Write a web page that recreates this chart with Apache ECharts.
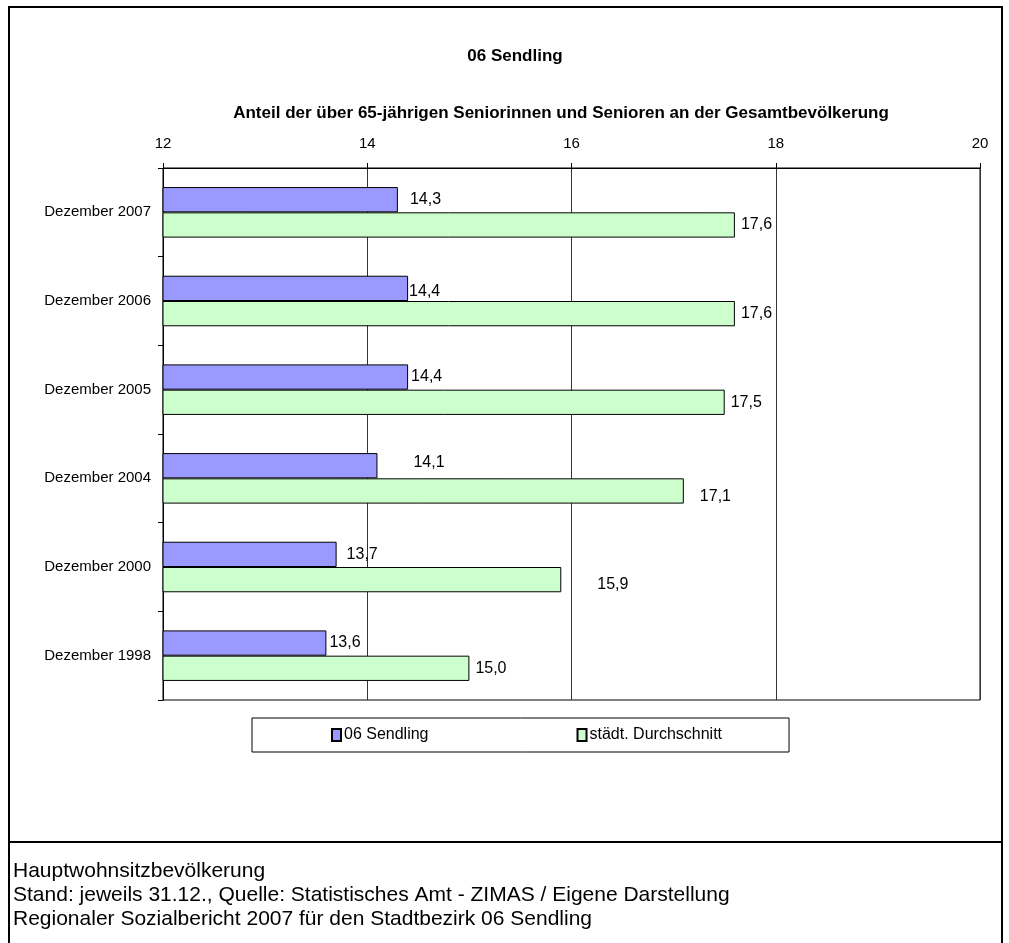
<!DOCTYPE html>
<html>
<head>
<meta charset="utf-8">
<script src="https://cdn.jsdelivr.net/npm/echarts@6/dist/echarts.min.js"></script>
<style>
  html, body { margin: 0; padding: 0; background: #fff; }
  #chart { width: 1009px; height: 943px; }
</style>
</head>
<body>
<div id="chart"></div>
<script>
// Daten
const categories = ['Dezember 2007', 'Dezember 2006', 'Dezember 2005', 'Dezember 2004', 'Dezember 2000', 'Dezember 1998'];
const sendlingValues = [14.3, 14.4, 14.4, 14.1, 13.7, 13.6];
const stadtValues = [17.6, 17.6, 17.5, 17.1, 15.9, 15.0];
const seriesNames = ['06 Sendling', 'städt. Durchschnitt'];
const footerLines = [
  'Hauptwohnsitzbevölkerung',
  'Stand: jeweils 31.12., Quelle: Statistisches Amt - ZIMAS / Eigene Darstellung',
  'Regionaler Sozialbericht 2007 für den Stadtbezirk 06 Sendling'
];

// Excel hat die Beschriftungen etwas unregelmaessig gesetzt -> kleine Verschiebungen [dx, dy]
const sendlingLabelShift = [[6, 0], [-5, 3], [-3, 0], [30, -3], [4, 0], [-3, 0]];
const stadtLabelShift = [[0, 0], [0, 0], [0, 0], [10, 6], [30, 5], [0, 0]];

const FONT = '"Liberation Sans", Arial, sans-serif';

const chart = echarts.init(document.getElementById('chart'));

const fmt = p => p.value.toFixed(1).replace('.', ',');

const withShift = (values, shifts) =>
  values.map((v, i) => ({ value: v, label: { offset: shifts[i] } }));

const option = {
  animation: false,
  backgroundColor: '#fff',
  textStyle: { fontFamily: FONT, color: '#000' },
  title: [
    {
      text: '06 Sendling',
      left: 510, top: 43,
      textAlign: 'center',
      textStyle: { fontFamily: FONT, fontSize: 17, fontWeight: 'bold', color: '#000' }
    },
    {
      text: 'Anteil der über 65-jährigen Seniorinnen und Senioren an der Gesamtbevölkerung',
      left: 556, top: 100,
      textAlign: 'center',
      textStyle: { fontFamily: FONT, fontSize: 17, fontWeight: 'bold', color: '#000' }
    }
  ],
  legend: {
    data: seriesNames,
    left: 252, top: 718,
    orient: 'horizontal',
    itemWidth: 9, itemHeight: 12,
    itemGap: 148,
    padding: [9, 67, 9, 79],
    borderColor: '#000', borderWidth: 1,
    textStyle: { fontFamily: FONT, fontSize: 16, color: '#000', padding: [0, 0, 0, -2] },
    icon: 'rect'
  },
  grid: {
    left: 163, right: 29, top: 168, bottom: 243,
    show: true, borderColor: '#000', borderWidth: 1
  },
  xAxis: {
    type: 'value',
    position: 'top',
    min: 12, max: 20, interval: 2,
    axisLine: { show: true, lineStyle: { color: '#000', width: 1 } },
    axisTick: { show: true, length: 5, lineStyle: { color: '#000' } },
    axisLabel: { fontFamily: FONT, fontSize: 15, color: '#000', margin: 17 },
    splitLine: { show: true, lineStyle: { color: '#333', width: 1 } }
  },
  yAxis: {
    type: 'category',
    data: categories,
    inverse: true,
    axisLine: { show: true, lineStyle: { color: '#000', width: 1 } },
    axisTick: { show: true, length: 5, lineStyle: { color: '#000' } },
    axisLabel: { fontFamily: FONT, fontSize: 15, color: '#000', margin: 12 },
    splitLine: { show: false }
  },
  series: [
    {
      name: seriesNames[0],
      type: 'bar',
      data: withShift(sendlingValues, sendlingLabelShift),
      barGap: '0%',
      barCategoryGap: '43%',
      itemStyle: { color: '#9999FF', borderColor: '#000', borderWidth: 1 },
      label: { show: true, position: 'right', distance: 6, fontFamily: FONT, fontSize: 16, color: '#000', formatter: fmt }
    },
    {
      name: seriesNames[1],
      type: 'bar',
      data: withShift(stadtValues, stadtLabelShift),
      barGap: '0%',
      barCategoryGap: '43%',
      itemStyle: { color: '#CCFFCC', borderColor: '#000', borderWidth: 1 },
      label: { show: true, position: 'right', distance: 6, fontFamily: FONT, fontSize: 16, color: '#000', formatter: fmt }
    }
  ],
  graphic: [
    {
      type: 'rect',
      shape: { x: 9, y: 7, width: 993, height: 960 },
      style: { fill: 'none', stroke: '#000', lineWidth: 2 },
      silent: true
    },
    {
      type: 'line',
      shape: { x1: 9, y1: 842, x2: 1002, y2: 842 },
      style: { stroke: '#000', lineWidth: 2 },
      silent: true
    }
  ].concat(footerLines.map((t, i) => ({
    type: 'text',
    left: 13,
    top: 861 + i * 24,
    style: { text: t, fontFamily: FONT, fontSize: 21, fill: '#000' },
    silent: true
  })))
};

chart.setOption(option);
</script>
</body>
</html>
